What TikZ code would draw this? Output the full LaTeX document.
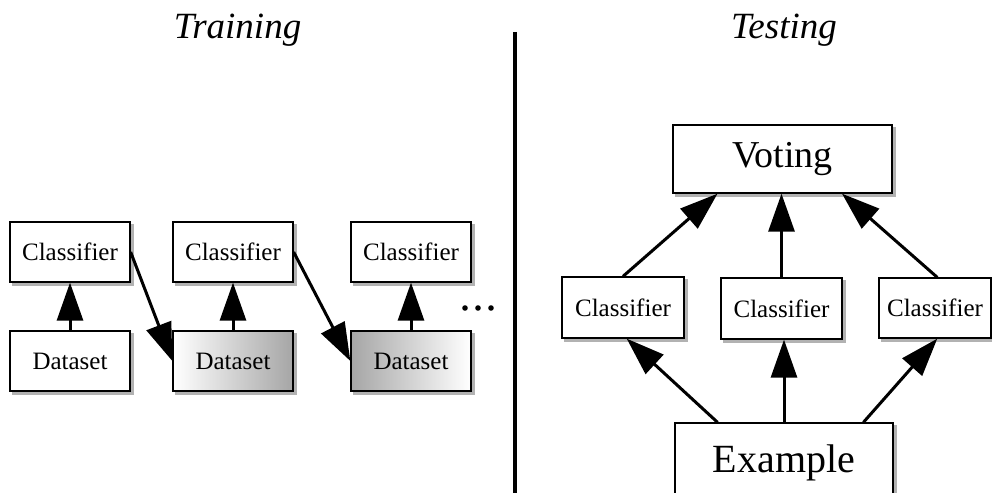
\documentclass[tikz,border=0pt]{standalone}
\usepackage{fontspec}
\setmainfont{Liberation Serif}
\usetikzlibrary{arrows.meta,calc,backgrounds}
\begin{document}
\begin{tikzpicture}[x=1pt,y=-1pt,
  box/.style={draw, line width=1.3pt, fill=white, inner sep=0pt, minimum width=120pt, minimum height=60pt, font=\fontsize{25}{29}\selectfont},
  bigbox/.style={box, minimum width=219pt, minimum height=68pt, font=\fontsize{38}{43}\selectfont},
  title/.style={anchor=base, font=\fontsize{37}{42}\selectfont\itshape},
  arr/.style={line width=3pt, arrows={-Triangle[length=38pt, width=26pt]}},
  shad/.style={fill=black!30}
]
\useasboundingbox (0,0) rectangle (992,492);
\clip (0,0) rectangle (992,492);
% titles
\node[title] (ttrain) at (237.5,39) {Training};
\node[title] (ttest) at (784,39) {Testing};
% divider
\draw[line width=3.5pt] (515,32) -- (515,495);
% training
\node[box] (C1) at (70,252) {Classifier};
\node[box] (D1) at (70,361) {Dataset};
\node[box] (C2) at (233,252) {Classifier};
\node[box, left color=white, right color=black!35] (D2) at (233,361) {Dataset};
\node[box] (C3) at (411,252) {Classifier};
\node[box, left color=black!35, right color=white] (D3) at (411,361) {Dataset};
\foreach \xx in {465,478,491} \fill (\xx,308) circle (2.8pt);
% testing
\node[bigbox] (V) at (782.5,159) {Voting};
\node[box, minimum width=122pt, minimum height=61pt] (CL) at (623,307.5) {Classifier};
\node[box, minimum width=121pt, minimum height=61pt] (CM) at (781.5,308.5) {Classifier};
\node[box, minimum width=112pt, minimum height=60pt] (CR) at (935,308) {Classifier};
\node[bigbox, minimum width=218pt, minimum height=80pt, font=\fontsize{40}{45}\selectfont] (E) at (784,463) {Example};
% shadows
\begin{scope}[on background layer]
  \foreach \n in {C1,D1,C2,D2,C3,D3,V,CL,CM,CR,E}
    \fill[shad] ([xshift=3pt,yshift=-3pt]\n.south west) rectangle ([xshift=3pt,yshift=-3pt]\n.north east);
\end{scope}
% training arrows
\draw[arr] (D1.north) -- (C1.south);
\draw[arr] (D2.north) -- (C2.south);
\draw[arr] (D3.north) -- (C3.south);
\draw[arr] (C1.east) -- (D2.west);
\draw[arr] (C2.east) -- (D3.west);
% testing arrows
\draw[arr] (CL.north) -- ($(V.south west)!0.205!(V.south east)$);
\draw[arr] (CM.north) -- (CM.north |- V.south);
\draw[arr] ($(CR.north west)!0.52!(CR.north east)$) -- ($(V.south west)!0.77!(V.south east)$);
\draw[arr] ($(E.north west)!0.197!(E.north east)$) -- ($(CL.south west)!0.53!(CL.south east)$);
\draw[arr] (E.north) -- (E.north |- CM.south);
\draw[arr] ($(E.north west)!0.862!(E.north east)$) -- ($(CR.south west)!0.52!(CR.south east)$);
\end{tikzpicture}
\end{document}
